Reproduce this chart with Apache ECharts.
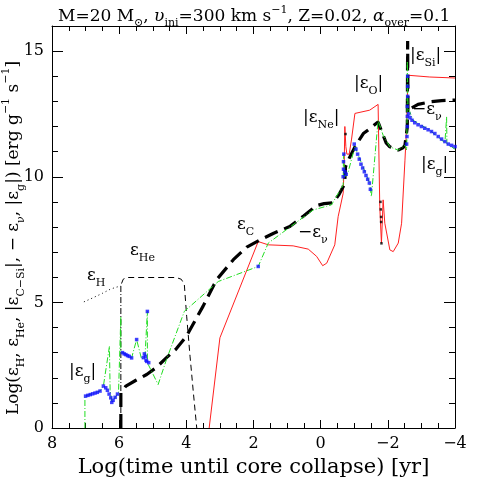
<!DOCTYPE html>
<html>
<head>
<meta charset="utf-8">
<script src="https://cdn.jsdelivr.net/npm/echarts@6/dist/echarts.min.js"></script>
<style>
html, body { margin: 0; padding: 0; background: #fff; }
#chart { width: 480px; height: 480px; }
</style>
</head>
<body>
<div id="chart"></div>
<script>
// values, pairs of [log t (yr), log eps]
var xMin = -4, xMax = 8
var yMin = 0, yMax = 16

var epsH = [[7.05, 5.02], [6.8, 5.17], [6.5, 5.36], [6.27, 5.52], [6.1, 5.6], [5.95, 5.65]]
var epsHdrop = [[5.95, 5.65], [5.95, 0]]
var epsHe = [[5.93, 5.75], [5.88, 5.92], [5.78, 5.99], [4.3, 5.99], [4.15, 5.92], [4.06, 5.72],
	[3.99, 4.45], [3.89, 2.86], [3.79, 1.4], [3.69, 0]]
var epsNu = [[5.95, 0], [5.95, 1.4], [5.8, 1.67], [5.5, 1.9], [5.18, 2.13], [4.9, 2.4], [4.59, 2.8],
	[4.3, 3.15], [4.0, 3.65], [3.5, 4.85], [3.1, 5.9], [2.6, 6.7], [2.2, 7.2], [1.81, 7.48],
	[1.4, 7.75], [0.92, 8.02], [0.5, 8.45], [0.12, 8.85], [-0.1, 8.93], [-0.37, 8.96],
	[-0.55, 9.3], [-0.67, 9.6], [-0.72, 9.87], [-0.74, 10.4], [-0.82, 10.66], [-1.02, 11.19],
	[-1.27, 11.72], [-1.5, 11.95], [-1.71, 12.18], [-1.86, 11.65], [-1.95, 11.35], [-2.06, 11.19],
	[-2.31, 11.06], [-2.45, 11.15], [-2.51, 11.26], [-2.58, 11.98], [-2.59, 15.4], [-2.6, 12.6],
	[-2.66, 12.7], [-2.9, 12.88], [-3.25, 12.98], [-3.6, 13.03], [-4, 13.05]]
var epsCSi = [[3.32, 0], [3.0, 3.59], [1.86, 7.42], [1.56, 7.29], [0.82, 7.25], [0.37, 7.12],
	[0.12, 6.83], [-0.06, 6.46], [-0.18, 6.56], [-0.42, 7.29], [-0.52, 8.41], [-0.67, 9.34],
	[-0.7, 10.5], [-0.72, 12.0], [-0.75, 11.2], [-0.78, 10.9], [-0.85, 10.9], [-0.92, 11.5],
	[-1.02, 12.52], [-1.07, 12.55], [-1.46, 12.65], [-1.71, 12.88], [-1.76, 8.81], [-1.81, 7.36],
	[-1.86, 9.08], [-1.91, 8.15], [-2.06, 7.09], [-2.16, 7.02], [-2.31, 7.36], [-2.41, 8.15],
	[-2.51, 10.66], [-2.56, 11.98], [-2.6, 14.04], [-2.65, 14.04], [-3.25, 13.97], [-4, 13.93]]
var epsGrav = [[7.02, 0], [7.02, 1.27], [6.57, 1.47], [6.47, 1.67], [6.29, 3.25], [6.27, 1.54],
	[6.22, 1.02], [6.12, 1.22], [6.02, 1.4], [5.95, 4.44], [5.95, 2.99], [5.88, 3.0], [5.63, 2.79],
	[5.48, 3.52], [5.33, 2.73], [5.23, 2.86], [5.16, 4.64], [5.16, 2.6], [4.84, 1.73], [4.59, 2.73],
	[4.06, 4.64], [3.05, 5.83], [1.86, 6.43], [1.56, 7.36], [0.22, 8.68], [-0.32, 8.88],
	[-0.67, 9.67], [-0.68, 10.9], [-0.72, 10.0], [-0.82, 10.2], [-1.02, 11.19], [-1.46, 9.74],
	[-1.51, 9.21], [-1.71, 12.25], [-1.86, 11.65], [-2.06, 11.19], [-2.31, 11.06], [-2.51, 11.26],
	[-2.56, 11.06], [-2.57, 12.0], [-2.58, 14.6], [-2.6, 12.78], [-2.75, 12.25], [-3.25, 11.85],
	[-3.7, 11.35], [-3.75, 12.38], [-3.76, 11.3], [-4, 11.1]]
// points where eps_g < 0 (blue)
var gravNeg = [[7.0, 1.27], [6.93, 1.3], [6.86, 1.33], [6.79, 1.36], [6.72, 1.39], [6.65, 1.42],
	[6.57, 1.47], [6.47, 1.67], [6.4, 1.6], [6.35, 1.5], [6.3, 1.35], [6.25, 1.2], [6.22, 1.02],
	[6.18, 1.1], [6.12, 1.22], [6.05, 1.35], [5.9, 3.0], [5.85, 2.95], [5.8, 2.92], [5.75, 2.88],
	[5.7, 2.85], [5.63, 2.79], [5.48, 3.52], [5.28, 2.8], [5.25, 2.95], [5.22, 2.85], [5.2, 2.7],
	[5.18, 2.65], [5.16, 4.64], [5.12, 2.6], [1.86, 6.43],
	[-0.67, 10.0], [-0.68, 10.3], [-0.68, 10.6], [-0.69, 10.9], [-0.72, 10.2], [-0.76, 10.1],
	[-1.0, 11.3], [-1.05, 11.1], [-1.1, 10.9], [-1.15, 10.7], [-1.2, 10.5], [-1.25, 10.35],
	[-1.3, 10.2], [-1.35, 10.05], [-1.4, 9.9], [-1.45, 9.75], [-1.48, 9.5],
	[-2.56, 11.3], [-2.57, 11.6], [-2.58, 12.0], [-2.58, 12.4], [-2.58, 12.8], [-2.59, 13.2],
	[-2.59, 13.6], [-2.59, 14.0], [-2.62, 12.5], [-2.66, 12.35], [-2.72, 12.25], [-2.8, 12.15],
	[-2.9, 12.07], [-3.0, 12.0], [-3.1, 11.93], [-3.2, 11.87], [-3.3, 11.8], [-3.4, 11.72],
	[-3.5, 11.6], [-3.6, 11.5], [-3.7, 11.4], [-3.8, 11.3], [-3.9, 11.25], [-4.0, 11.2]]
var oddPts = [[-0.74, 11.7], [-1.78, 9.0], [-1.79, 8.7], [-1.8, 8.4], [-1.8, 8.2], [-1.81, 7.35]]

var FONT = 'DejaVu Serif'

var richEps = {
	e: { fontFamily: FONT, fontSize: 17, color: '#000', lineHeight: 26, verticalAlign: 'middle', fontWeight: 'normal' },
	s: { fontFamily: FONT, fontSize: 11, color: '#000', lineHeight: 11, verticalAlign: 'bottom', fontWeight: 'normal' },
	p: { fontFamily: FONT, fontSize: 11, color: '#000', lineHeight: 11, verticalAlign: 'top', fontWeight: 'normal' }
}

function label(x, y, text, rot, align) {
	return {
		type: 'text',
		x: x,
		y: y,
		rotation: rot || 0,
		style: {
			text: text,
			rich: richEps,
			textAlign: align || 'left',
			textVerticalAlign: 'middle',
			fill: '#000'
		}
	}
}

function minusFmt(v) {
	return v < 0 ? '\u2212' + (-v) : String(v)
}

var chart = echarts.init(document.getElementById('chart'))

var noZero = { onZero: false, lineStyle: { color: '#000', width: 1 } }
var majorX = { inside: true, length: 8, lineStyle: { color: '#000', width: 1 } }
var minorX = { show: true, splitNumber: 4, length: 5, lineStyle: { color: '#000', width: 1 } }
var majorY = { inside: true, length: 11, lineStyle: { color: '#000', width: 1 } }
var minorY = { inside: true, length: 6, lineStyle: { color: '#000', width: 1 } }

chart.setOption({
	animation: false,
	backgroundColor: '#fff',
	title: {
		text: '{a|M=20 M}{s|\u2299}{a|, }{i|\u03c5}{s|ini}{a|=300 km s}{p|\u22121}{a|, Z=0.02, }{i|\u03b1}{s|over}{a|=0.1}',
		left: 53,
		top: 0,
		textStyle: {
			fontWeight: 'normal',
			rich: {
				a: { fontFamily: FONT, fontSize: 17, color: '#000', lineHeight: 24, verticalAlign: 'middle', fontWeight: 'normal' },
				i: { fontFamily: FONT, fontSize: 17, color: '#000', lineHeight: 24, verticalAlign: 'middle', fontStyle: 'italic', fontWeight: 'normal' },
				s: { fontFamily: FONT, fontSize: 11, color: '#000', lineHeight: 11, verticalAlign: 'bottom', fontWeight: 'normal' },
				p: { fontFamily: FONT, fontSize: 11, color: '#000', lineHeight: 11, verticalAlign: 'top', fontWeight: 'normal' }
			}
		}
	},
	grid: { left: 52, right: 25, top: 26, bottom: 52, outerBoundsMode: 'none' },
	xAxis: [
		{
			type: 'value',
			inverse: true,
			min: xMin,
			max: xMax,
			interval: 2,
			position: 'bottom',
			name: 'Log(time until core collapse) [yr]',
			nameLocation: 'middle',
			nameGap: 29,
			nameTextStyle: { fontFamily: FONT, fontSize: 21, color: '#000' },
			axisLine: noZero,
			axisTick: majorX,
			minorTick: minorX,
			axisLabel: { fontFamily: FONT, fontSize: 16, color: '#000', margin: 8, formatter: minusFmt },
			splitLine: { show: false }
		},
		{
			type: 'value',
			inverse: true,
			min: xMin,
			max: xMax,
			interval: 2,
			position: 'top',
			axisLine: noZero,
			axisTick: majorX,
			minorTick: minorX,
			axisLabel: { show: false },
			splitLine: { show: false }
		}
	],
	yAxis: [
		{
			type: 'value',
			min: yMin,
			max: yMax,
			interval: 5,
			position: 'left',
			axisLine: noZero,
			axisTick: majorY,
			axisLabel: { fontFamily: FONT, fontSize: 16, color: '#000', margin: 8, showMaxLabel: false },
			splitLine: { show: false }
		},
		{
			type: 'value', min: yMin, max: yMax, interval: 1, position: 'left',
			axisLine: { show: false, onZero: false },
			axisTick: minorY,
			axisLabel: { show: false },
			splitLine: { show: false }
		},
		{
			type: 'value', min: yMin, max: yMax, interval: 5, position: 'right',
			axisLine: noZero,
			axisTick: majorY,
			axisLabel: { show: false },
			splitLine: { show: false }
		},
		{
			type: 'value', min: yMin, max: yMax, interval: 1, position: 'right',
			axisLine: { show: false, onZero: false },
			axisTick: minorY,
			axisLabel: { show: false },
			splitLine: { show: false }
		}
	],
	series: [
		{
			type: 'line', data: epsCSi, showSymbol: false, z: 2,
			lineStyle: { color: '#ff2020', width: 1 }
		},
		{
			type: 'line', data: epsH, showSymbol: false, z: 3,
			lineStyle: { color: '#000', width: 1, type: [1, 3] }
		},
		{
			type: 'line', data: epsHdrop, showSymbol: false, z: 3,
			lineStyle: { color: '#000', width: 1, type: [6, 2, 1, 2] }
		},
		{
			type: 'line', data: epsHe, showSymbol: false, z: 3,
			lineStyle: { color: '#000', width: 1, type: [6, 4] }
		},
		{
			type: 'line', data: epsNu, showSymbol: false, z: 4,
			lineStyle: { color: '#000', width: 3.2, type: [14, 7] }
		},
		{
			type: 'line', data: epsGrav, showSymbol: false, z: 5,
			lineStyle: { color: '#22dd22', width: 1, type: [6, 2, 1, 2] }
		},
		{
			type: 'scatter', data: gravNeg, symbol: 'rect', symbolSize: 3.5, z: 6,
			itemStyle: { color: '#1010ff' }
		},
		{
			type: 'scatter', data: oddPts, symbol: 'rect', symbolSize: 2.5, z: 6,
			itemStyle: { color: '#000' }
		}
	],
	graphic: [
		// y axis title, rotated
		label(14, 238, '{e|Log(\u03b5}{s|H}{e|, \u03b5}{s|He}{e|, |\u03b5}{s|C\u2212Si}{e||, \u2212 \u03b5}{s|\u03bd}{e|, |\u03b5}{s|g}{e||) [erg g}{p|\u22121}{e| s}{p|\u22121}{e|]}', Math.PI / 2, 'center'),
		label(87, 276, '{e|\u03b5}{s|H}'),
		label(130, 251, '{e|\u03b5}{s|He}'),
		label(69, 372, '{e||\u03b5}{s|g}{e||}'),
		label(237, 225, '{e|\u03b5}{s|C}'),
		label(298, 233, '{e|\u2212\u03b5}{s|\u03bd}'),
		label(303, 118, '{e||\u03b5}{s|Ne}{e||}'),
		label(354, 84, '{e||\u03b5}{s|O}{e||}'),
		label(410, 56, '{e||\u03b5}{s|Si}{e||}'),
		label(412, 110, '{e|\u2212\u03b5}{s|\u03bd}'),
		label(421, 165, '{e||\u03b5}{s|g}{e||}')
	]
})
</script>
</body>
</html>
